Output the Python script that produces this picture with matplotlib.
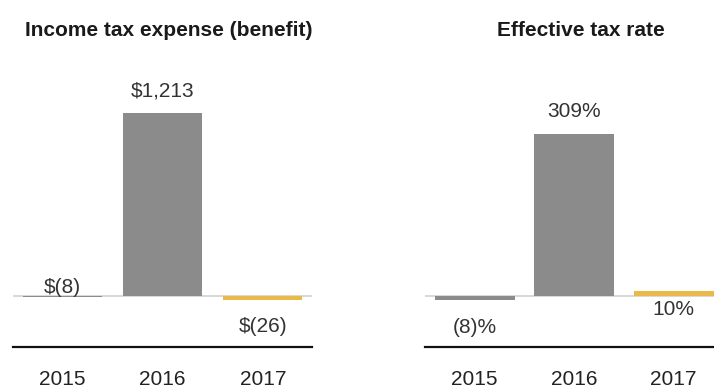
import numpy as np
from matplotlib import pyplot as plt

plt.rc('font', family=['Liberation Sans', 'DejaVu Sans'])

# data
years = ['2015', '2016', '2017']
tax_expense = [-8, 1213, -26]          # $ millions
tax_rate = [-8, 309, 10]               # percent
expense_labels = ['$(8)', '$1,213', '$(26)']
rate_labels = ['(8)%', '309%', '10%']

gray = '#8b8b8b'
gold = '#e9b949'
colors = [gray, gray, gold]

W, H = 714, 388
fig = plt.figure(figsize=(W / 100, H / 100), dpi=100)


def px_axes(x0, x1, y_top, y_bot):
    # axes placed in pixel coordinates (y measured from top)
    return fig.add_axes([x0 / W, (H - y_bot) / H, (x1 - x0) / W, (y_bot - y_top) / H])


def style(ax, xlim, ylim):
    ax.set_xlim(*xlim)
    ax.set_ylim(*ylim)
    ax.axhline(0, color='#d4d4d4', linewidth=1.3, zorder=1)
    for s in ['top', 'right', 'left']:
        ax.spines[s].set_visible(False)
    ax.spines['bottom'].set_linewidth(1.6)
    ax.spines['bottom'].set_color('#111111')
    ax.set_yticks([])
    ax.set_xticks(range(len(years)))
    ax.set_xticklabels(years, fontsize=15, color='#222222')
    ax.tick_params(axis='x', length=0, pad=16.5)
    ax.patch.set_alpha(0)


x = np.arange(len(years))

# income tax expense (benefit)
ax1 = px_axes(13, 312, 60, 347)
ax1.bar(x, tax_expense, width=0.79, color=colors, zorder=2)
style(ax1, (-0.49, 2.49), (-338, 1564))
offsets = [3, 16, -32]
for xi, v, lab, off in zip(x, tax_expense, expense_labels, offsets):
    base = max(v, 0) if off > 0 else min(v, 0)
    if xi == 0:
        base = 0
    ax1.annotate(lab, (xi, base), xytext=(0, off * 0.72), textcoords='offset points',
                 ha='center', va='baseline', fontsize=15, color='#333333')

# effective tax rate
ax2 = px_axes(425, 714, 60, 347)
ax2.bar(x, tax_rate, width=0.80, color=colors, zorder=2)
style(ax2, (-0.5, 2.405), (-97.3, 450))
rate_pos = [(tax_rate[0], -33), (tax_rate[1], 17), (0, -19)]
for xi, lab, (base, off) in zip(x, rate_labels, rate_pos):
    ax2.annotate(lab, (xi, base), xytext=(0, off * 0.72), textcoords='offset points',
                 ha='center', va='baseline', fontsize=15, color='#333333')

fig.text(168.5 / W, (H - 36) / H, 'Income tax expense (benefit)', ha='center',
         va='baseline', fontsize=15, fontweight='bold', color='#1a1a1a')
fig.text(581 / W, (H - 36) / H, 'Effective tax rate', ha='center',
         va='baseline', fontsize=15, fontweight='bold', color='#1a1a1a')

fig.savefig('out.png', dpi=100)
